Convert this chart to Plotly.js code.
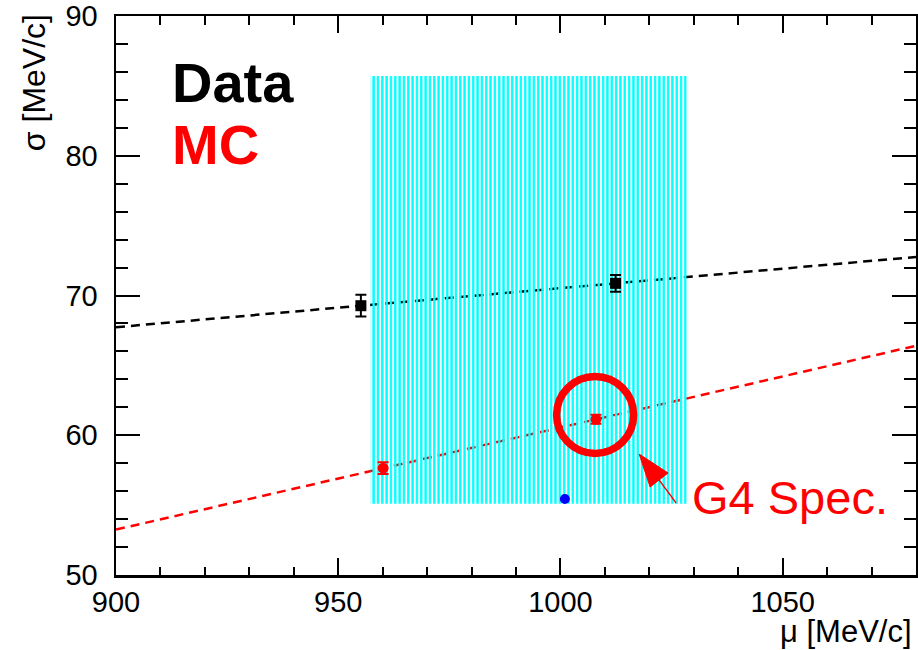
<!DOCTYPE html>
<html>
<head>
<meta charset="utf-8">
<script src="https://cdn.plot.ly/plotly-3.0.1.min.js"></script>
<style>
  html, body { margin: 0; padding: 0; background: #ffffff; }
  #chart { width: 918px; height: 650px; }
</style>
</head>
<body>
<div id="chart"></div>
<script>
// Momentum resolution: mean momentum (mu) vs. width (sigma), in MeV/c
const muData = [955.1, 1012.4];
const sigmaData = [69.27, 70.87];
const sigmaDataErr = [0.78, 0.6];

const muMC = [960.1, 1008.0];
const sigmaMC = [57.64, 61.14];
const sigmaMCErr = [0.42, 0.32];

const muSpec = [1001.0];
const sigmaSpec = [55.44];

// acceptance region of the specification
const specMuRange = [957.3, 1028.4];
const specSigmaRange = [55.1, 85.7];

const xRange = [900, 1080];
const yRange = [50, 90];

const FONT = 'Liberation Sans, Arial, Helvetica, sans-serif';

// straight line through the two points of a series, evaluated over the axis range
function lineThrough(xs, ys) {
  const slope = (ys[1] - ys[0]) / (xs[1] - xs[0]);
  return {
    x: xRange.slice(),
    y: xRange.map(v => ys[0] + slope * (v - xs[0]))
  };
}

const dataLine = lineThrough(muData, sigmaData);
const mcLine = lineThrough(muMC, sigmaMC);

const traces = [
  {
    x: dataLine.x, y: dataLine.y, mode: 'lines', hoverinfo: 'skip',
    line: { color: '#000000', width: 2.5, dash: '9px,6px' }
  },
  {
    x: mcLine.x, y: mcLine.y, mode: 'lines', hoverinfo: 'skip',
    line: { color: '#ff0000', width: 2.5, dash: '9px,6px' }
  },
  {
    x: [specMuRange[0], specMuRange[1], specMuRange[1], specMuRange[0], specMuRange[0]],
    y: [specSigmaRange[0], specSigmaRange[0], specSigmaRange[1], specSigmaRange[1], specSigmaRange[0]],
    mode: 'lines', fill: 'toself', hoverinfo: 'skip',
    line: { width: 0, color: 'rgba(0,0,0,0)' },
    fillcolor: 'rgba(0,255,255,0)',
    fillpattern: { shape: '|', fgcolor: '#00ffff', size: 4.33, solidity: 0.55 }
  },
  {
    x: muData, y: sigmaData, mode: 'markers',
    marker: { symbol: 'square', size: 11, color: '#000000' },
    error_y: { type: 'data', array: sigmaDataErr, visible: true, color: '#000000', thickness: 2, width: 5.5 }
  },
  {
    x: muMC, y: sigmaMC, mode: 'markers',
    marker: { symbol: 'circle', size: 11, color: '#ff0000' },
    error_y: { type: 'data', array: sigmaMCErr, visible: true, color: '#ff0000', thickness: 2, width: 5.5 }
  },
  {
    x: muSpec, y: sigmaSpec, mode: 'markers',
    marker: { symbol: 'circle', size: 10, color: '#0000ff' }
  }
];

const axisCommon = {
  showgrid: false, zeroline: false,
  showline: true, linecolor: '#000000', linewidth: 2.5, mirror: 'allticks',
  ticks: 'inside', tickcolor: '#000000', tickwidth: 2,
  tickfont: { family: FONT, size: 29, color: '#000000' }
};

// red ring around the MC point with the arrow from the label
const ringMu = 1007.8, ringSigma = 61.45;

const layout = {
  width: 918, height: 650,
  margin: { l: 116, r: 2, t: 16, b: 75 },
  paper_bgcolor: '#ffffff', plot_bgcolor: '#ffffff',
  showlegend: false,
  xaxis: Object.assign({}, axisCommon, {
    range: xRange, tick0: 900, dtick: 50, ticklen: 17,
    ticklabelstandoff: 0,
    minor: { dtick: 10, ticks: 'inside', ticklen: 8.5, tickwidth: 2, tickcolor: '#000000' }
  }),
  yaxis: Object.assign({}, axisCommon, {
    range: yRange, tick0: 50, dtick: 10, ticklen: 24,
    ticklabelstandoff: 10,
    minor: { dtick: 2, ticks: 'inside', ticklen: 12, tickwidth: 2, tickcolor: '#000000' }
  }),
  shapes: [
    {
      type: 'circle', xref: 'x', yref: 'y', xsizemode: 'pixel', ysizemode: 'pixel',
      xanchor: ringMu, yanchor: ringSigma, x0: -38.5, x1: 38.5, y0: -38.5, y1: 38.5,
      line: { color: '#ff0000', width: 7.5 }
    },
    {
      type: 'path', xref: 'x', yref: 'y', xsizemode: 'pixel', ysizemode: 'pixel',
      xanchor: ringMu, yanchor: ringSigma,
      path: 'M 44,-39 L 73,-58 L 55,-72 Z',
      fillcolor: '#ff0000', line: { color: '#ff0000', width: 1 }
    },
    {
      type: 'path', xref: 'x', yref: 'y', xsizemode: 'pixel', ysizemode: 'pixel',
      xanchor: ringMu, yanchor: ringSigma,
      path: 'M 64,-65 L 81,-88',
      line: { color: '#ff0000', width: 1.3 }
    }
  ],
  annotations: [
    {
      xref: 'paper', yref: 'paper', x: 0.0675, y: 0.8819, xanchor: 'left', yanchor: 'middle',
      text: '<b>Data</b>', showarrow: false,
      font: { family: FONT, size: 56, color: '#000000' }
    },
    {
      xref: 'paper', yref: 'paper', x: 0.0675, y: 0.771, xanchor: 'left', yanchor: 'middle',
      text: '<b>MC</b>', showarrow: false,
      font: { family: FONT, size: 56, color: '#ff0000' }
    },
    {
      xref: 'paper', yref: 'paper', x: 0.717, y: 0.1386, xanchor: 'left', yanchor: 'middle',
      text: 'G4 Spec.', showarrow: false,
      font: { family: FONT, size: 47, color: '#ff0000' }
    },
    {
      xref: 'paper', yref: 'paper', x: -0.1025, y: 1.006, xanchor: 'center', yanchor: 'top',
      text: 'σ [MeV/c]', textangle: -90, showarrow: false,
      font: { family: FONT, size: 32, color: '#000000' }
    },
    {
      xref: 'paper', yref: 'paper', x: 0.997, y: -0.067, xanchor: 'right', yanchor: 'top',
      text: 'μ [MeV/c]', showarrow: false,
      font: { family: FONT, size: 31, color: '#000000' }
    }
  ]
};

Plotly.newPlot('chart', traces, layout, { staticPlot: true, displayModeBar: false });
</script>
</body>
</html>
